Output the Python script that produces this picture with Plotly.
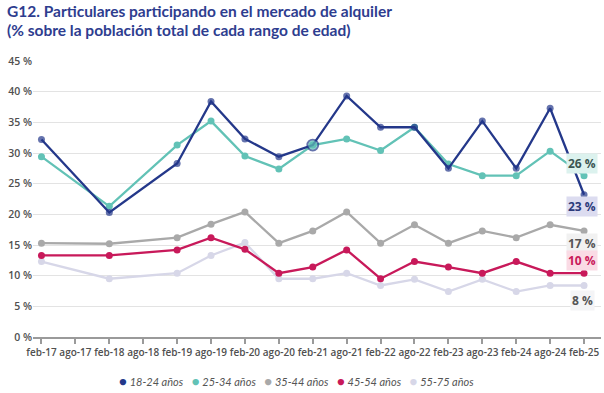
import plotly.graph_objects as go

periods = ["feb-17", "ago-17", "feb-18", "ago-18", "feb-19", "ago-19", "feb-20", "ago-20",
           "feb-21", "ago-21", "feb-22", "ago-22", "feb-23", "ago-23", "feb-24", "ago-24", "feb-25"]
y_tick_values = [0, 5, 10, 15, 20, 25, 30, 35, 40, 45]
y_tick_labels = [f"{v} %" for v in y_tick_values]

series_names = ["18-24 años", "25-34 años", "35-44 años", "45-54 años", "55-75 años"]
age_18_24 = [32.2, None, 20.3, None, 28.3, 38.4, 32.3, 29.4, 31.3, 39.3, 34.2, 34.2, 27.5, 35.2, 27.5, 37.3, 23.2]
age_25_34 = [29.4, None, 21.3, None, 31.3, 35.2, 29.5, 27.4, 31.3, 32.3, 30.4, 34.2, 28.2, 26.3, 26.3, 30.3, 26.3]
age_35_44 = [15.3, None, 15.2, None, 16.2, 18.4, 20.4, 15.3, 17.3, 20.4, 15.3, 18.3, 15.3, 17.3, 16.2, 18.3, 17.3]
age_45_54 = [13.3, None, 13.3, None, 14.2, 16.2, 14.3, 10.4, 11.4, 14.2, 9.5, 12.3, 11.4, 10.4, 12.3, 10.4, 10.4]
age_55_75 = [12.3, None, 9.5, None, 10.4, 13.3, 15.4, 9.5, 9.5, 10.4, 8.4, 9.4, 7.4, 9.4, 7.4, 8.4, 8.4]
end_labels = ["23 %", "26 %", "17 %", "10 %", "8 %"]

title_line1 = "G12. Particulares participando en el mercado de alquiler"
title_line2 = "(% sobre la población total de cada rango de edad)"

series_values = [age_18_24, age_25_34, age_35_44, age_45_54, age_55_75]
colors = ["#24388a", "#62c2b6", "#a9a9a9", "#c8195a", "#d7d7e8"]
label_bg = ["#dcdcf0", "#dcf2ee", "#f1f1f1", "#fadbe5", "#f4f4f6"]
label_fg = ["#2b3a7a", "#3b5552", "#555555", "#c8195a", "#555555"]
label_shift = [-12, 12, -13, 13, -15]

W, H = 604, 393
M_L, M_R, M_T, M_B = 33, 3, 61, 56
plot_w = W - M_L - M_R
plot_h = H - M_T - M_B

fig = go.Figure()

# draw oldest group first so 18-24 is on top
for i in reversed(range(len(series_names))):
    vals = series_values[i]
    marker = dict(size=7, color=colors[i])
    if i == 0:
        highlight = periods.index("feb-21")
        marker = dict(
            size=[11 if k == highlight else 7 for k in range(len(periods))],
            color=[colors[1] if k == highlight else colors[0] for k in range(len(periods))],
            line=dict(color=colors[0], width=[1.8 if k == highlight else 0 for k in range(len(periods))]),
        )
    fig.add_trace(go.Scatter(
        x=periods, y=vals, mode="lines+markers", name=series_names[i],
        line=dict(color=colors[i], width=2.3), marker=marker,
        connectgaps=True, showlegend=False,
    ))

# end labels
last = len(periods) - 1
for i in range(len(series_names)):
    fig.add_annotation(
        x=periods[last], y=series_values[i][last], xref="x", yref="y",
        text=f"<b>{end_labels[i]}</b>", showarrow=False,
        xshift=-2, yshift=label_shift[i],
        font=dict(family="Open Sans", size=12, color=label_fg[i]),
        bgcolor=label_bg[i], borderpad=1,
    )

# legend
legend_text = "&nbsp;&nbsp;&nbsp;".join(
    f'<span style="color:{colors[i]}; font-size:13px">●</span> <i>{series_names[i]}</i>'
    for i in range(len(series_names))
)
fig.add_annotation(
    x=(296 - M_L) / plot_w, y=(H - M_B - 381) / plot_h, xref="paper", yref="paper",
    xanchor="center", yanchor="middle",
    text=legend_text, showarrow=False,
    font=dict(family="Lato", size=11, color="#555555"),
)

# title (two lines)
for line, y_px in ((title_line1, 11), (title_line2, 30)):
    fig.add_annotation(
        x=(5 - M_L) / plot_w, y=(H - M_B - y_px) / plot_h, xref="paper", yref="paper",
        xanchor="left", yanchor="middle",
        text=f"<b>{line}</b>", showarrow=False,
        font=dict(family="Lato", size=15.5, color="#2e3d8f"),
    )

fig.update_layout(
    width=W, height=H,
    margin=dict(l=M_L, r=M_R, t=M_T, b=M_B),
    paper_bgcolor="white", plot_bgcolor="white",
    showlegend=False,
    xaxis=dict(
        type="category", categoryorder="array", categoryarray=periods,
        range=[-0.25, 16.5], showgrid=False, zeroline=False,
        showline=True, linecolor="#9a9a9a", linewidth=2,
        ticks="outside", ticklen=5, tickcolor="#9a9a9a", tickwidth=2,
        tickangle=0,
        tickfont=dict(family="Open Sans", size=10, color="#505050", weight=600),
        fixedrange=True,
    ),
    yaxis=dict(
        range=[0, 45], tickvals=y_tick_values, ticktext=y_tick_labels,
        showgrid=True, gridcolor="#e3e3e3", gridwidth=1, zeroline=False,
        showline=False, ticks="",
        tickfont=dict(family="Open Sans", size=10.5, color="#505050", weight=600),
        fixedrange=True,
    ),
)

fig.write_html("out.html", config={"displayModeBar": False},
               post_script="document.body.style.margin='0';")
